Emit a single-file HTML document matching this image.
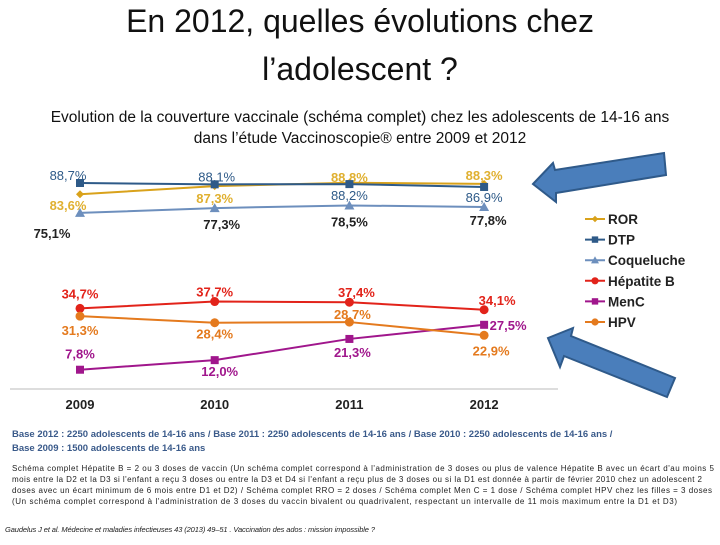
<!DOCTYPE html>
<html><head><meta charset="utf-8"><style>
body{margin:0;background:#fff;}
svg text{font-family:"Liberation Sans",sans-serif;}
</style></head><body>
<svg width="720" height="540" viewBox="0 0 720 540" xmlns="http://www.w3.org/2000/svg">
<text x="360" y="32" text-anchor="middle" font-size="32" fill="#111">En 2012, quelles évolutions chez</text>
<text x="360" y="80" text-anchor="middle" font-size="32" fill="#111">l’adolescent ?</text>
<text x="360" y="122" text-anchor="middle" font-size="15.5" fill="#111">Evolution de la couverture vaccinale (schéma complet) chez les adolescents de 14-16 ans</text>
<text x="360" y="143" text-anchor="middle" font-size="15.5" fill="#111">dans l’étude Vaccinoscopie® entre 2009 et 2012</text>
<line x1="10" y1="389" x2="558" y2="389" stroke="#bbb"/>
<g id="plot"></g>
<g id="legend"></g>
<polygon points="533,184 553,163 555,170 664,153 666,175 556,193 556,202" fill="#4a7ebb" stroke="#2f5a8a" stroke-width="2"/>
<polygon points="548,338 573,328 571,336 675,378 667,397 564,356 560,367" fill="#4a7ebb" stroke="#2f5a8a" stroke-width="2"/>
<g font-size="9.5" font-weight="bold" fill="#3a5a8a">
<text x="12" y="437">Base 2012 : 2250 adolescents de 14-16 ans  / Base 2011 : 2250 adolescents de 14-16 ans / Base 2010 : 2250 adolescents de 14-16 ans  /</text>
<text x="12" y="451">Base 2009 : 1500 adolescents de 14-16 ans</text>
</g>
<g font-size="8" fill="#222">
<text x="12" y="471" textLength="702">Schéma complet Hépatite B = 2 ou 3 doses de vaccin (Un schéma complet correspond à l'administration de 3 doses ou plus de valence Hépatite B avec un écart d'au moins 5</text>
<text x="12" y="482" textLength="690">mois entre la D2 et la D3 si l'enfant a reçu 3 doses ou entre la D3 et D4 si l'enfant a reçu plus de 3 doses ou si la D1 est donnée à partir de février 2010 chez un adolescent 2</text>
<text x="12" y="493" textLength="700">doses avec un écart minimum de 6 mois entre D1 et D2)  / Schéma complet RRO = 2 doses  / Schéma complet Men C = 1 dose / Schéma complet HPV chez les filles = 3 doses</text>
<text x="12" y="504" textLength="665">(Un schéma complet correspond à l'administration de 3 doses du vaccin bivalent ou quadrivalent, respectant un intervalle de 11 mois maximum entre la D1 et D3)</text>
</g>
<text x="5" y="532" font-size="7.5" font-style="italic" fill="#222" textLength="370">Gaudelus J et al. Médecine et maladies infectieuses 43 (2013) 49–51 . Vaccination des ados : mission impossible ?</text>
</svg>
<script>
const years=["2009","2010","2011","2012"];
const seriesNames=["ROR","DTP","Coqueluche","Hépatite B","MenC","HPV"];
const ror=[83.6,87.3,88.8,88.3];
const dtp=[88.7,88.1,88.2,86.9];
const coq=[75.1,77.3,78.5,77.8];
const hepb=[34.7,37.7,37.4,34.1];
const menc=[7.8,12.0,21.3,27.5];
const hpv=[31.3,28.4,28.7,22.9];
const NS="http://www.w3.org/2000/svg";
function xs(i){return 80+i*134.7;}
// broken axis: upper band compressed/offset
function ys(v){return v>=50 ? 183-(v-88.7)*2.2 : 387.5-2.28*v;}
function el(t,a,p){const e=document.createElementNS(NS,t);for(const k in a)e.setAttribute(k,a[k]);p.appendChild(e);return e;}
const plot=document.getElementById('plot');
const legend=document.getElementById('legend');
function fmt(v){return v.toFixed(1).replace('.',',')+'%';}
function marker(type,x,y,c,p,s){
  let m;
  if(type==='sq')m=el('rect',{x:x-4*s,y:y-4*s,width:8*s,height:8*s,fill:c},p);
  else if(type==='tri')m=el('polygon',{points:`${x},${y-5*s} ${x-5*s},${y+4*s} ${x+5*s},${y+4*s}`,fill:c},p);
  else if(type==='dia')m=el('polygon',{points:`${x},${y-4*s} ${x+4*s},${y} ${x},${y+4*s} ${x-4*s},${y}`,fill:c},p);
  else m=el('circle',{cx:x,cy:y,r:4.5*s,fill:c},p);
  return m;
}
const series=[
 {d:ror,c:"#d9a21b",lc:"#e0b030",m:"dia",off:[[-12,16],[0,17],[0,-1],[0,-4]]},
 {d:dtp,c:"#2e5a88",lc:"#2e5a88",m:"sq",off:[[-12,-3],[2,-3],[0,16],[0,15]]},
 {d:coq,c:"#6d8fbd",lc:"#222",m:"tri",off:[[-28,25],[7,21],[0,21],[4,18]]},
 {d:hepb,c:"#e2231a",lc:"#e2231a",m:"dot",off:[[0,-10],[0,-5],[7,-5],[13,-5]]},
 {d:menc,c:"#a0168c",lc:"#a0168c",m:"sq",off:[[0,-11],[5,16],[3,18],[24,5]]},
 {d:hpv,c:"#e47a1e",lc:"#e47a1e",m:"dot",off:[[0,19],[0,16],[3,-3],[7,20]]}
];
series.forEach((s,si)=>{
  const g=el('g',{},plot);
  
  
  const pts=s.d.map((v,i)=>xs(i)+','+ys(v)).join(' ');
  const pl=el('polyline',{points:pts,fill:'none',stroke:s.c,'stroke-width':2},g);
  
  
  s.d.forEach((v,i)=>{
    const m=marker(s.m,xs(i),ys(v),s.c,g,1);
    
    
    const t=el('text',{x:xs(i)+s.off[i][0],y:ys(v)+s.off[i][1],'text-anchor':'middle','font-size':13,'font-weight':si===1?'normal':'bold',fill:s.lc},g);
    t.textContent=fmt(v);
    
    
  });
  const ly=219+si*20.6;
  el('line',{x1:585,y1:ly,x2:605,y2:ly,stroke:s.c,'stroke-width':2},legend);
  marker(s.m,595,ly,s.c,legend,0.8);
  const lt=el('text',{x:608,y:ly+5,'font-size':13.5,'font-weight':'bold',fill:'#222'},legend);
  lt.textContent=seriesNames[si];
  
  
});
years.forEach((y,i)=>{
  const t=el('text',{x:xs(i),y:409,'text-anchor':'middle','font-size':13,'font-weight':'bold',fill:'#222'},plot);
  t.textContent=y;
  
  
});
</script>
</body></html>
